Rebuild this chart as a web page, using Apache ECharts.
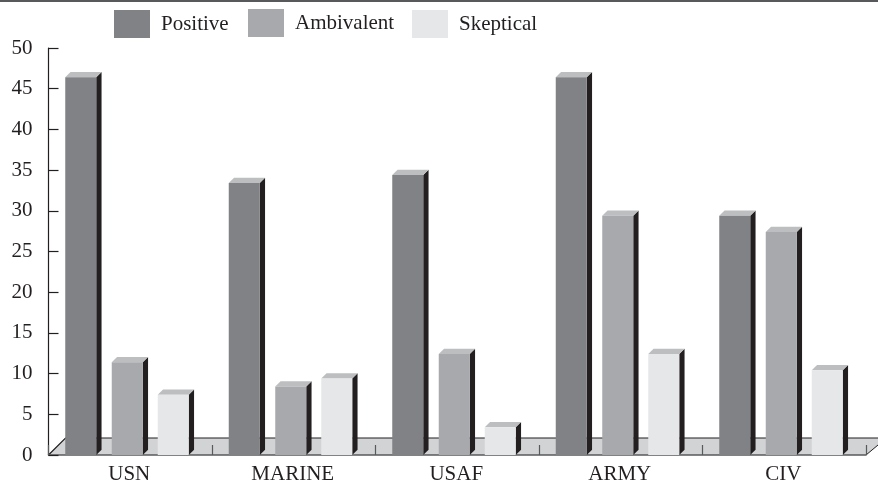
<!DOCTYPE html>
<html><head><meta charset="utf-8">
<style>html,body{margin:0;padding:0;background:#fff}#c{width:878px;height:480px}</style>
<script src="https://cdn.jsdelivr.net/npm/echarts@6/dist/echarts.min.js"></script></head>
<body><div id="c"></div>
<script>
const categories = ['USN','MARINE','USAF','ARMY','CIV'];
const positive = [46.4,33.4,34.4,46.4,29.4];
const ambivalent = [11.4,8.4,12.4,29.4,27.4];
const skeptical = [7.4,9.4,3.4,12.4,10.4];
const yTicks = {min:0,max:50,interval:5};
const font = '"Liberation Serif","Times New Roman",serif';
const ink = '#231f20';
const chart = echarts.init(document.getElementById('c'),null,{renderer:'canvas'});
const barW = 31, depth = 5.3;
function box(offset, face){
  return function(params, api){
    const p = api.coord([api.value(0), api.value(1)]);
    const base = api.coord([api.value(0), 0]);
    const x = p[0] + offset - barW/2, r = x + barW, t = p[1], b = base[1];
    return {type:'group',children:[
      {type:'polygon',shape:{points:[[r,b],[r,t],[r+depth,t-depth],[r+depth,b-depth]]},style:{fill:ink}},
      {type:'polygon',shape:{points:[[x,t],[x+depth,t-depth],[r+depth,t-depth],[r,t]]},style:{fill:'#bcbec0'}},
      {type:'rect',shape:{x:x,y:t,width:barW,height:b-t},style:{fill:face}}
    ]};
  };
}
function floor(params, api){
  const c = params.coordSys, d = 17, lx = c.x, rx = c.x + c.width, by = c.y + c.height;
  return {type:'group',children:[
    {type:'polygon',shape:{points:[[lx,by],[lx+d,by-d],[878,by-d],[878,by-10],[rx,by]]},style:{fill:'#d1d3d4'}},
    {type:'polyline',shape:{points:[[lx,by],[lx+d,by-d],[878,by-d]]},style:{fill:'none',stroke:ink,lineWidth:1.2}},
    {type:'line',shape:{x1:rx,y1:by,x2:878,y2:by-10},style:{stroke:ink,lineWidth:1}}
  ]};
}
function mk(name,data,offset,face){
  return {name,type:'custom',z:4,clip:false,coordinateSystem:'cartesian2d',itemStyle:{color:face},
    encode:{x:0,y:1},data:data.map((v,i)=>[i,v]),renderItem:box(offset,face)};
}
function lg(name,left,top){
  return {show:true,data:[{name,icon:'rect'}],left,top,itemWidth:36,itemHeight:28,itemGap:0,padding:0,
    selectedMode:false,textStyle:{fontFamily:font,fontSize:21,color:ink,padding:[0,0,0,6]}};
}
chart.setOption({
  animation:false,backgroundColor:'#fff',
  grid:{left:48.5,right:12,top:48,bottom:25,outerBoundsMode:'none'},
  legend:[lg('Positive',114,10),lg('Ambivalent',248,9),lg('Skeptical',412,10)],
  graphic:[{type:'rect',shape:{x:0,y:0,width:878,height:2},style:{fill:'#58595b'}}],
  xAxis:{type:'category',data:categories,z:3,
    axisLine:{lineStyle:{color:'#58595b',width:1.5}},
    axisTick:{show:true,inside:true,length:10,lineStyle:{color:'#58595b',width:1.2}},
    axisLabel:{fontFamily:font,fontSize:21,color:ink,margin:9,padding:[0,2,0,0]},splitLine:{show:false}},
  yAxis:{type:'value',min:yTicks.min,max:yTicks.max,interval:yTicks.interval,z:3,
    axisLine:{show:true,lineStyle:{color:ink,width:1.2}},
    axisTick:{show:true,inside:true,length:10,lineStyle:{color:ink,width:1.2}},
    axisLabel:{fontFamily:font,fontSize:21,color:ink,margin:16},splitLine:{show:false}},
  series:[
    {name:'floor',type:'custom',z:1,clip:false,silent:true,data:[[0,0]],encode:{x:0,y:1},renderItem:floor},
    mk('Positive',positive,-49.5,'#808285'),
    mk('Ambivalent',ambivalent,-3,'#a7a9ac'),
    mk('Skeptical',skeptical,43,'#e6e7e8')
  ]
});
</script></body></html>
